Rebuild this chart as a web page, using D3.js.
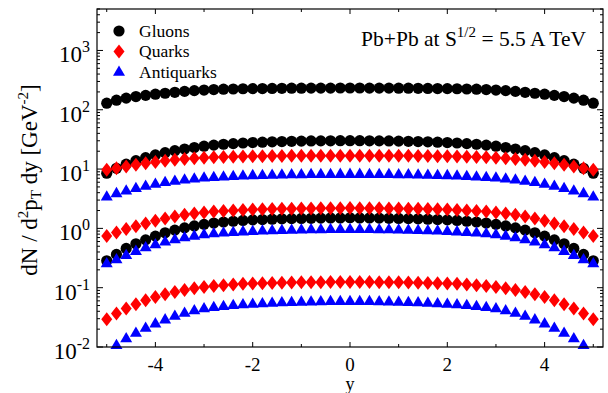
<!DOCTYPE html>
<meta charset="utf-8">
<style>
body { margin: 0; background: #fff; }
text { font-family: "Liberation Serif", "Times New Roman", serif; fill: #000; }
</style>
<svg width="608" height="393"></svg>
<script src="https://d3js.org/d3.v7.min.js"></script>
<script>

// rapidity grid
var rapidity = [-5,-4.8,-4.6,-4.4,-4.2,-4,-3.8,-3.6,-3.4,-3.2,-3,-2.8,-2.6,-2.4,-2.2,-2,-1.8,-1.6,-1.4,-1.2,-1,-0.8,-0.6,-0.4,-0.2,0,
                0.2,0.4,0.6,0.8,1,1.2,1.4,1.6,1.8,2,2.2,2.4,2.6,2.8,3,3.2,3.4,3.6,3.8,4,4.2,4.4,4.6,4.8,5];

var gluonHigh = [129,145,157,167,175,183,190,197,204,210,215,219,222,224,226,227,228,229,230,231,231,232,232,232,233,233,
                 233,232,232,232,231,231,230,229,228,227,226,224,222,219,215,210,204,197,190,183,175,167,157,145,129];
var gluonMid  = [8.5,10.3,12.1,13.9,15.6,17.3,18.9,20.4,21.8,23.1,24.3,25.3,26.2,26.9,27.5,28.0,28.4,28.8,29.1,29.4,29.6,29.8,29.9,30.0,30.1,30.1,
                 30.1,30.0,29.9,29.8,29.6,29.4,29.1,28.8,28.4,28.0,27.5,26.9,26.2,25.3,24.3,23.1,21.8,20.4,18.9,17.3,15.6,13.9,12.1,10.3,8.5];
var gluonLow  = [0.284,0.364,0.459,0.55,0.641,0.741,0.843,0.935,1.02,1.1,1.17,1.23,1.28,1.32,1.36,1.39,1.41,1.43,1.45,1.46,1.47,1.48,1.49,1.5,1.5,1.51,
                 1.5,1.5,1.49,1.48,1.47,1.46,1.45,1.43,1.41,1.39,1.36,1.32,1.28,1.23,1.17,1.1,1.02,0.935,0.843,0.741,0.641,0.55,0.459,0.364,0.284];

var quarkHigh = [9.7,10.3,11.0,11.8,12.5,13.2,13.8,14.3,14.8,15.2,15.5,15.8,16.0,16.2,16.3,16.4,16.5,16.6,16.6,16.7,16.7,16.8,16.8,16.8,16.8,16.8,
                 16.8,16.8,16.8,16.8,16.7,16.7,16.6,16.6,16.5,16.4,16.3,16.2,16.0,15.8,15.5,15.2,14.8,14.3,13.8,13.2,12.5,11.8,11.0,10.3,9.7];
var quarkMid  = [0.741,0.855,0.972,1.09,1.21,1.34,1.47,1.59,1.69,1.78,1.86,1.92,1.97,2.01,2.05,2.08,2.1,2.12,2.14,2.15,2.16,2.17,2.18,2.19,2.19,2.2,
                 2.19,2.19,2.18,2.17,2.16,2.15,2.14,2.12,2.1,2.08,2.05,2.01,1.97,1.92,1.86,1.78,1.69,1.59,1.47,1.34,1.21,1.09,0.972,0.855,0.741];
var quarkLow  = [0.0294,0.0366,0.0446,0.0526,0.0615,0.070,0.0776,0.0849,0.0918,0.0982,0.103,0.107,0.110,0.113,0.116,0.118,0.119,0.120,0.121,0.122,0.123,0.124,0.124,0.125,0.125,0.125,
                 0.125,0.125,0.124,0.124,0.123,0.122,0.121,0.120,0.119,0.118,0.116,0.113,0.110,0.107,0.103,0.0982,0.0918,0.0849,0.0776,0.070,0.0615,0.0526,0.0446,0.0366,0.0294];

var antiHigh  = [3.42,3.9,4.32,4.74,5.18,5.6,5.98,6.29,6.62,6.88,7.12,7.3,7.45,7.6,7.72,7.83,7.9,7.97,8.03,8.08,8.12,8.16,8.19,8.21,8.22,8.23,
                 8.22,8.21,8.19,8.16,8.12,8.08,8.03,7.97,7.9,7.83,7.72,7.6,7.45,7.3,7.12,6.88,6.62,6.29,5.98,5.6,5.18,4.74,4.32,3.9,3.42];
var antiMid   = [0.256,0.299,0.354,0.414,0.478,0.537,0.594,0.65,0.703,0.748,0.788,0.818,0.843,0.864,0.882,0.898,0.91,0.92,0.93,0.94,0.948,0.955,0.96,0.965,0.968,0.97,
                 0.968,0.965,0.96,0.955,0.948,0.94,0.93,0.92,0.91,0.898,0.882,0.864,0.843,0.818,0.788,0.748,0.703,0.65,0.594,0.537,0.478,0.414,0.354,0.299,0.256];
var antiLow   = [0.0085,0.0107,0.0139,0.0172,0.0209,0.0248,0.029,0.0334,0.0375,0.0412,0.0446,0.0468,0.0488,0.0505,0.052,0.0532,0.0543,0.0553,0.0562,0.057,0.0576,0.0582,0.0586,0.059,0.0591,0.0592,
                 0.0591,0.059,0.0586,0.0582,0.0576,0.057,0.0562,0.0553,0.0543,0.0532,0.052,0.0505,0.0488,0.0468,0.0446,0.0412,0.0375,0.0334,0.029,0.0248,0.0209,0.0172,0.0139,0.0107,0.0085];

var xTicks = [-4,-2,0,2,4];
var xMinor = [-5,-3,-1,1,3,5];
var yDecades = [-2,-1,0,1,2,3];

var legendNames = ["Gluons","Quarks","Antiquarks"];

var svg = d3.select("svg"),
    W = +svg.attr("width"),
    H = +svg.attr("height");

var m = {left: 97, right: 5, top: 9, bottom: 46};
var x = d3.scaleLinear().domain([-5.2, 5.2]).range([m.left, W - m.right]);
var y = d3.scaleLog().domain([0.01, 5000]).range([H - m.bottom, m.top]);

var circ = function(r) { return d3.symbol(d3.symbolCircle, Math.PI * r * r)(); };
var diamond = function() { return "M0,-7L5.5,0L0,7L-5.5,0Z"; };
var triangle = function() { return "M0,-6.5L6,3.8L-6,3.8Z"; };

var series = [
  {v: gluonHigh, shape: circ(5.6), col: "#000"},
  {v: gluonMid,  shape: circ(5.6), col: "#000"},
  {v: gluonLow,  shape: circ(5.6), col: "#000"},
  {v: quarkHigh, shape: diamond(), col: "#f00"},
  {v: quarkMid,  shape: diamond(), col: "#f00"},
  {v: quarkLow,  shape: diamond(), col: "#f00"},
  {v: antiHigh,  shape: triangle(), col: "#00f"},
  {v: antiMid,   shape: triangle(), col: "#00f"},
  {v: antiLow,   shape: triangle(), col: "#00f"}
];

// ticks (inward, all sides)
var tk = svg.append("g").attr("stroke", "#000").attr("stroke-width", 1);
var y0 = H - m.bottom, y1 = m.top, x0 = m.left, x1 = W - m.right;

xTicks.forEach(function(t) {
  tk.append("line").attr("x1", x(t)).attr("x2", x(t)).attr("y1", y0).attr("y2", y0 - 5);
  tk.append("line").attr("x1", x(t)).attr("x2", x(t)).attr("y1", y1).attr("y2", y1 + 5);
});
xMinor.forEach(function(t) {
  tk.append("line").attr("x1", x(t)).attr("x2", x(t)).attr("y1", y0).attr("y2", y0 - 3);
  tk.append("line").attr("x1", x(t)).attr("x2", x(t)).attr("y1", y1).attr("y2", y1 + 3);
});
yDecades.forEach(function(d) {
  var v = Math.pow(10, d);
  tk.append("line").attr("x1", x0).attr("x2", x0 + 6).attr("y1", y(v)).attr("y2", y(v));
  tk.append("line").attr("x1", x1).attr("x2", x1 - 6).attr("y1", y(v)).attr("y2", y(v));
  for (var k = 2; k <= 9; k++) {
    var vv = k * v;
    if (vv > 5000) break;
    tk.append("line").attr("x1", x0).attr("x2", x0 + 3).attr("y1", y(vv)).attr("y2", y(vv));
    tk.append("line").attr("x1", x1).attr("x2", x1 - 3).attr("y1", y(vv)).attr("y2", y(vv));
  }
});

// data points
series.forEach(function(s) {
  svg.append("g").selectAll("path")
    .data(rapidity.map(function(r, i) { return [r, s.v[i]]; }).filter(function(d) { return d[1] >= 0.01; }))
    .enter().append("path")
    .attr("d", s.shape)
    .attr("fill", s.col)
    .attr("transform", function(d) { return "translate(" + x(d[0]) + "," + y(d[1]) + ")"; });
});

// frame
svg.append("rect")
  .attr("x", x0).attr("y", y1)
  .attr("width", x1 - x0).attr("height", y0 - y1)
  .attr("fill", "none").attr("stroke", "#000").attr("stroke-width", 1.2);

// y tick labels
yDecades.forEach(function(d) {
  var t = svg.append("text")
    .attr("x", 90).attr("y", y(Math.pow(10, d)) + 12)
    .attr("text-anchor", "end")
    .style("font-size", "23px");
  t.append("tspan").text("10");
  t.append("tspan").attr("dy", -10).style("font-size", "16px").text(d < 0 ? "-" + (-d) : d);
});

// x tick labels
xTicks.forEach(function(t) {
  svg.append("text")
    .attr("x", x(t)).attr("y", 371)
    .attr("text-anchor", "middle")
    .style("font-size", "19px")
    .text(t < 0 ? "-" + (-t) : t);
});

svg.append("text")
  .attr("x", x(0)).attr("y", 390)
  .attr("text-anchor", "middle")
  .style("font-size", "18px")
  .text("y");

// y label
var yl = svg.append("text")
  .attr("transform", "translate(37," + ((y0 + y1) / 2 + 2) + ") rotate(-90)")
  .attr("text-anchor", "middle")
  .style("font-size", "23px");
yl.append("tspan").text("dN / d");
yl.append("tspan").attr("dy", -9).style("font-size", "15px").text("2");
yl.append("tspan").attr("dy", 9).text("p");
yl.append("tspan").attr("dy", 4).style("font-size", "15px").text("T");
yl.append("tspan").attr("dy", -4).text(" dy [GeV");
yl.append("tspan").attr("dy", -9).style("font-size", "15px").text("-2");
yl.append("tspan").attr("dy", 9).text("]");

// title
var tt = svg.append("text")
  .attr("x", 586).attr("y", 46)
  .attr("text-anchor", "end")
  .style("font-size", "21.5px");
tt.append("tspan").text("Pb+Pb at S");
tt.append("tspan").attr("dy", -9).style("font-size", "15px").text("1/2");
tt.append("tspan").attr("dy", 9).text(" = 5.5 A TeV");

// legend
var legShapes = [circ(5.6), diamond(), triangle()];
var legCols = ["#000", "#f00", "#00f"];
legendNames.forEach(function(n, i) {
  var ly = 31 + i * 20.5;
  svg.append("path").attr("d", legShapes[i]).attr("fill", legCols[i])
    .attr("transform", "translate(119," + ly + ")");
  svg.append("text").attr("x", 139).attr("y", ly + 5.5)
    .style("font-size", "17.5px").text(n);
});

</script>
